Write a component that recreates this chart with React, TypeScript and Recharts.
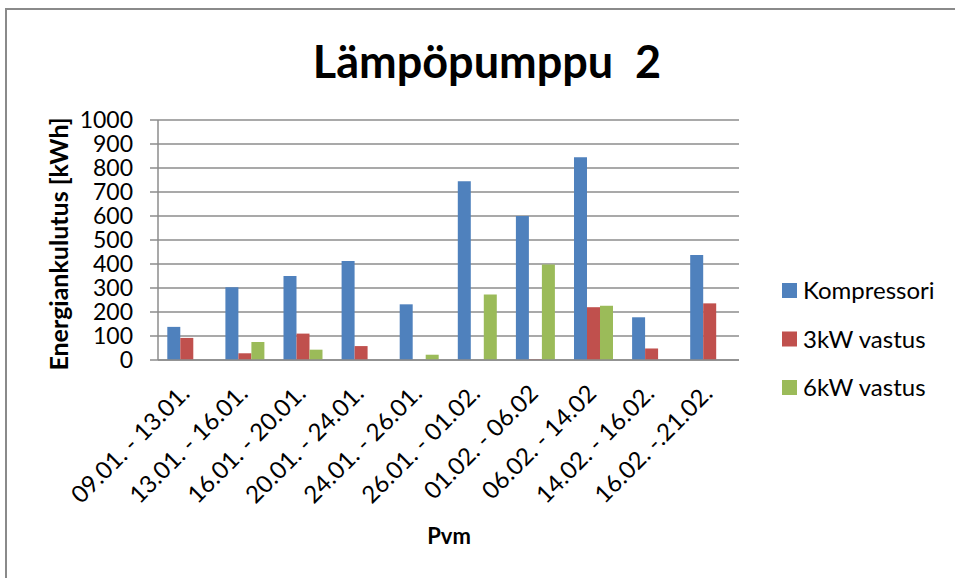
import React from "react";
import { BarChart, Bar, XAxis, YAxis, CartesianGrid } from "recharts";

const periods = [
  "09.01. - 13.01.",
  "13.01. - 16.01.",
  "16.01. - 20.01.",
  "20.01. - 24.01.",
  "24.01. - 26.01.",
  "26.01. - 01.02.",
  "01.02. - 06.02",
  "06.02. - 14.02",
  "14.02. - 16.02.",
  "16.02. -.21.02.",
];
const kompressori = [138, 303, 350, 412, 232, 745, 600, 845, 178, 438];
const vastus3kw = [92, 28, 110, 58, 0, 0, 3, 220, 48, 236];
const vastus6kw = [0, 75, 43, 0, 22, 273, 398, 226, 0, 0];
const yTicks = [0, 100, 200, 300, 400, 500, 600, 700, 800, 900, 1000];

const series = [
  { key: "kompressori", name: "Kompressori", color: "#4f81bd" },
  { key: "vastus3", name: "3kW vastus", color: "#c0504d" },
  { key: "vastus6", name: "6kW vastus", color: "#9bbb59" },
];

const data = periods.map((p, i) => ({
  period: p,
  kompressori: kompressori[i],
  vastus3: vastus3kw[i],
  vastus6: vastus6kw[i],
}));

const FONT = "Lato, 'Open Sans', sans-serif";
const GRID = "#8c8c8c";

// date range labels, slanted up to the right, ending under the group
function PeriodTick({ x, y, payload }: any) {
  const ax = x + 4;
  const ay = y + 27;
  return (
    <text
      x={ax}
      y={ay}
      textAnchor="end"
      transform={`rotate(-45, ${ax}, ${ay})`}
      fontSize={24}
      fontFamily={FONT}
      fill="#000"
    >
      {payload.value}
    </text>
  );
}

export default function App() {
  return (
    <div
      style={{
        position: "absolute",
        left: 0,
        top: 0,
        width: 955,
        height: 578,
        background: "#fff",
        overflow: "hidden",
      }}
    >
      <div style={{ position: "absolute", left: 0, top: 0 }}>
        <BarChart
          width={955}
          height={578}
          data={data}
          margin={{ top: 120, right: 216, bottom: 0, left: 95 }}
          barCategoryGap="16%"
          barGap={0}
        >
          <CartesianGrid vertical={false} stroke={GRID} strokeWidth={1.5} />
          <XAxis
            dataKey="period"
            interval={0}
            tick={<PeriodTick />}
            tickLine={false}
            axisLine={{ stroke: GRID, strokeWidth: 1.5 }}
            height={218}
          />
          <YAxis
            domain={[0, 1000]}
            ticks={yTicks}
            interval={0}
            tick={{ fontSize: 23, fill: "#000", fontFamily: FONT }}
            tickSize={8}
            tickMargin={17}
            tickLine={{ stroke: GRID, strokeWidth: 1.5 }}
            axisLine={{ stroke: GRID, strokeWidth: 1.5 }}
            width={63}
          />
          {series.map((s) => (
            <Bar
              key={s.key}
              dataKey={s.key}
              name={s.name}
              fill={s.color}
              isAnimationActive={false}
            />
          ))}
        </BarChart>
      </div>

      {/* frame, titles and legend */}
      <svg
        width={955}
        height={578}
        style={{ position: "absolute", left: 0, top: 0, pointerEvents: "none" }}
        fontFamily={FONT}
      >
        <line x1={6} y1={8} x2={6} y2={578} stroke="#8a8a8a" strokeWidth={2} />
        <line x1={5} y1={9} x2={955} y2={9} stroke="#8a8a8a" strokeWidth={2} />
        <text
          x={487}
          y={78}
          textAnchor="middle"
          fontSize={45}
          fontWeight={700}
          style={{ whiteSpace: "pre" }}
        >
          {"Lämpöpumppu  2"}
        </text>
        <text
          transform="translate(58, 244) rotate(-90)"
          textAnchor="middle"
          dominantBaseline="central"
          fontSize={25}
          fontWeight={700}
        >
          Energiankulutus [kWh]
        </text>
        <text x={449} y={544} textAnchor="middle" fontSize={22} fontWeight={700}>
          Pvm
        </text>
        {series.map((s, i) => (
          <g key={s.key}>
            <rect x={782} y={283 + i * 48.5} width={15} height={15} fill={s.color} />
            <text x={803} y={299 + i * 48.5} fontSize={24}>
              {s.name}
            </text>
          </g>
        ))}
      </svg>
    </div>
  );
}
